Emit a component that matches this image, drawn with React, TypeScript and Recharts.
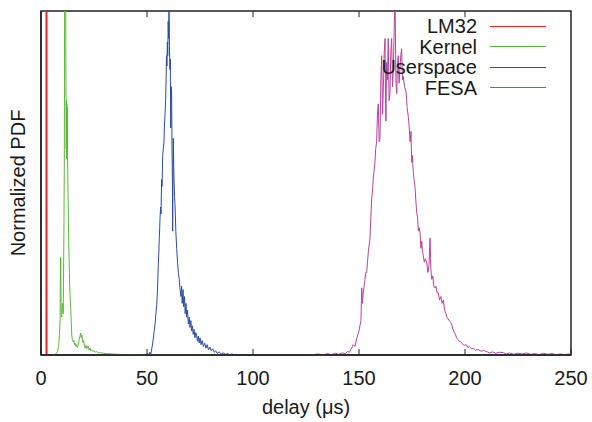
import React from "react";
import { LineChart, Line, XAxis, YAxis, Legend, ReferenceArea, ReferenceLine } from "recharts";

const xTicks = [0, 50, 100, 150, 200, 250];

const lm32Delay = [2.6, 2.6];
const lm32Pdf = [0, 3];

const kernelDelay = [6.0, 7.0, 7.8, 8.3, 8.7, 9.0, 9.2, 9.35, 9.5, 9.8, 10.1, 10.3, 10.5, 10.8, 11.0, 11.3, 11.5, 11.7, 11.8, 11.9, 12.0, 12.1, 12.2, 12.3, 12.4, 12.5, 12.8, 13.1, 13.4, 13.7, 14.0, 14.3, 14.5, 14.8, 15.2, 15.5, 15.8, 16.1, 16.5, 16.8, 17.2, 17.6, 18.0, 18.4, 18.7, 19.0, 19.3, 19.7, 20.1, 20.5, 20.8, 21.2, 21.6, 22.0, 22.3, 22.7, 23.1, 23.5, 23.9, 24.4, 25.0, 25.6, 26.3, 27.0, 28.0, 29.4, 31.0, 33.0, 36.0, 40.0, 45.0, 50.0, 60.0, 100.0];
const kernelPdf = [0, 0.003, 0.01, 0.025, 0.06, 0.1, 0.285, 0.28, 0.12, 0.11, 0.15, 0.13, 0.12, 0.35, 0.55, 1.6, 1.8, 0.9, 0.75, 0.6, 0.74, 0.57, 0.73, 0.58, 0.72, 0.58, 0.45, 0.32, 0.24, 0.17, 0.137, 0.09, 0.058, 0.045, 0.038, 0.042, 0.03, 0.034, 0.025, 0.03, 0.022, 0.03, 0.045, 0.055, 0.064, 0.05, 0.058, 0.037, 0.042, 0.025, 0.02, 0.028, 0.018, 0.026, 0.025, 0.015, 0.02, 0.012, 0.015, 0.01, 0.013, 0.008, 0.01, 0.006, 0.007, 0.005, 0.004, 0.003, 0.002, 0.001, 0.001, 0.0005, 0, 0];

const userDelay = [49.5, 50.5, 51.0, 51.4, 51.8, 52.3, 52.7, 53.0, 53.4, 53.8, 54.2, 54.6, 55.0, 55.3, 55.6, 55.8, 56.0, 56.1, 56.4, 56.6, 56.9, 57.1, 57.4, 57.7, 58.0, 58.2, 58.5, 58.8, 59.0, 59.2, 59.4, 59.6, 59.8, 60.0, 60.2, 60.4, 60.6, 60.8, 61.0, 61.2, 61.4, 61.6, 61.8, 62.0, 62.1, 62.3, 62.4, 62.7, 63.0, 63.2, 63.6, 64.0, 64.4, 64.8, 65.2, 65.6, 66.0, 66.3, 66.6, 67.0, 67.3, 67.7, 68.0, 68.4, 68.7, 69.1, 69.5, 69.9, 70.3, 70.7, 71.0, 71.4, 71.8, 72.2, 72.6, 73.0, 73.4, 73.8, 74.2, 74.6, 75.0, 75.5, 76.0, 76.6, 77.2, 77.8, 78.4, 79.0, 79.7, 80.3, 81.0, 81.7, 82.4, 83.1, 84.0, 85.0, 86.0, 87.0, 88.0, 89.0, 90.0, 91.0, 92.0, 93.0, 100.0];
const userPdf = [0, 0.004, 0, 0.008, 0.003, 0.02, 0.035, 0.05, 0.07, 0.09, 0.12, 0.145, 0.2, 0.26, 0.3, 0.34, 0.37, 0.39, 0.43, 0.41, 0.51, 0.49, 0.58, 0.6, 0.62, 0.66, 0.7, 0.74, 0.8, 0.87, 0.84, 0.91, 0.87, 0.97, 0.92, 1.02, 0.9, 0.83, 0.86, 0.66, 0.78, 0.77, 0.6, 0.5, 0.36, 0.55, 0.63, 0.52, 0.46, 0.44, 0.36, 0.31, 0.27, 0.24, 0.22, 0.19, 0.17, 0.2, 0.15, 0.19, 0.14, 0.17, 0.12, 0.15, 0.11, 0.13, 0.09, 0.11, 0.08, 0.1, 0.07, 0.085, 0.06, 0.075, 0.05, 0.065, 0.058, 0.04, 0.055, 0.035, 0.05, 0.03, 0.042, 0.025, 0.035, 0.02, 0.03, 0.015, 0.023, 0.012, 0.018, 0.008, 0.012, 0.005, 0.009, 0.003, 0.006, 0.002, 0.004, 0.001, 0.003, 0.001, 0.002, 0, 0];

const fesaDelay = [100, 110, 120, 128, 131, 133, 135, 137, 139, 140.5, 142, 143.5, 144.5, 145.5, 146.5, 147.3, 148.1, 148.9, 149.5, 150.0, 150.5, 150.9, 151.3, 151.6, 152.0, 152.4, 152.8, 153.2, 153.6, 154.0, 154.4, 154.8, 155.2, 155.6, 156.0, 156.4, 156.8, 157.2, 157.5, 157.9, 158.3, 158.7, 159.1, 159.5, 159.9, 160.3, 160.7, 161.1, 161.5, 161.9, 162.3, 162.5, 162.7, 163.0, 163.4, 163.8, 164.2, 164.6, 165.0, 165.4, 165.8, 166.2, 166.6, 167.0, 167.4, 167.8, 168.1, 168.5, 168.9, 169.3, 169.7, 170.1, 170.5, 170.9, 171.5, 172.2, 172.7, 173.3, 173.7, 174.1, 174.5, 174.9, 175.2, 175.6, 176.0, 176.4, 176.8, 177.2, 177.6, 178.0, 178.4, 178.8, 179.2, 179.6, 180.0, 180.3, 180.8, 181.3, 181.9, 182.5, 183.0, 183.5, 183.9, 184.3, 184.8, 185.3, 185.8, 186.3, 186.9, 187.4, 188.0, 188.6, 189.2, 189.8, 190.4, 191.0, 191.4, 192.0, 192.6, 193.2, 193.7, 194.3, 195.0, 195.5, 196.0, 196.6, 197.3, 198.0, 198.6, 199.2, 199.9, 200.6, 201.3, 202.0, 203.0, 203.9, 205.0, 206.2, 207.5, 208.8, 210.2, 211.5, 213, 214.5, 216, 218, 219.5, 221, 223, 225, 227, 229, 231, 233, 235, 237, 239, 241, 243, 245, 247, 249, 250];
const fesaPdf = [0, 0, 0, 0.001, 0.003, 0, 0.004, 0.001, 0.005, 0.002, 0.006, 0.004, 0.01, 0.008, 0.02, 0.03, 0.025, 0.047, 0.06, 0.07, 0.087, 0.1, 0.195, 0.15, 0.18, 0.2, 0.22, 0.24, 0.24, 0.27, 0.3, 0.32, 0.34, 0.4, 0.457, 0.48, 0.52, 0.54, 0.56, 0.6, 0.62, 0.7, 0.73, 0.62, 0.63, 0.8, 0.87, 0.7, 0.78, 0.88, 0.92, 0.75, 0.68, 0.85, 0.8, 0.92, 0.74, 0.76, 0.88, 0.92, 0.78, 0.83, 0.95, 1.05, 0.8, 0.76, 0.84, 0.87, 0.79, 0.83, 0.87, 0.89, 0.8, 0.81, 0.78, 0.765, 0.72, 0.69, 0.66, 0.62, 0.65, 0.56, 0.58, 0.53, 0.51, 0.49, 0.45, 0.415, 0.4, 0.36, 0.37, 0.355, 0.31, 0.33, 0.3, 0.29, 0.27, 0.28, 0.27, 0.24, 0.26, 0.34, 0.25, 0.22, 0.23, 0.2, 0.195, 0.2, 0.18, 0.18, 0.16, 0.17, 0.15, 0.16, 0.13, 0.12, 0.11, 0.105, 0.1, 0.095, 0.09, 0.075, 0.065, 0.06, 0.05, 0.045, 0.04, 0.038, 0.033, 0.03, 0.028, 0.03, 0.022, 0.025, 0.018, 0.02, 0.014, 0.016, 0.011, 0.013, 0.01, 0.006, 0.009, 0.005, 0.008, 0.007, 0.003, 0.006, 0.002, 0.005, 0.003, 0.006, 0.002, 0.004, 0.001, 0.005, 0.002, 0.004, 0.001, 0.003, 0.001, 0.003, 0];

const seriesNames = ["LM32", "Kernel", "Userspace", "FESA"];
const seriesColors = ["#e8232a", "#5cb83c", "#2b4ca2", "#b8439e"];

const toPoints = (xs: number[], ys: number[]) => xs.map((x, i) => ({ x, y: ys[i] }));

const series = [
  toPoints(lm32Delay, lm32Pdf),
  toPoints(kernelDelay, kernelPdf),
  toPoints(userDelay, userPdf),
  toPoints(fesaDelay, fesaPdf),
];

const FONT = "'Liberation Sans', Arial, Helvetica, sans-serif";
const TEXT = "#1a1a1a";
const FRAME = "#222";

const BottomTick = (props: any) => {
  const { x, y, payload } = props;
  return (
    <g>
      <line x1={x} x2={x} y1={y - 16} y2={y - 22} stroke={FRAME} strokeWidth={1} />
      <text x={x} y={y + 14} textAnchor="middle" fontFamily={FONT} fontSize={20} fill={TEXT}>
        {payload.value}
      </text>
    </g>
  );
};

const LegendBox = () => (
  <div style={{ fontFamily: FONT, fontSize: 20, color: TEXT }}>
    {seriesNames.map((n, i) => (
      <div key={n} style={{ display: "flex", alignItems: "center", height: 20.5 }}>
        <div style={{ width: 117, textAlign: "right", lineHeight: "20px" }}>{n}</div>
        <div style={{ width: 13 }} />
        <div style={{ width: 56, height: 0, borderTop: `1.2px solid ${seriesColors[i]}` }} />
      </div>
    ))}
  </div>
);

export default function App() {
  return (
    <div style={{ position: "fixed", left: 0, top: 0, width: 592, height: 422, background: "#fff" }}>
      <LineChart width={592} height={422} margin={{ top: 11, right: 21, bottom: 0, left: 0 }}>
        <XAxis
          dataKey="x"
          type="number"
          domain={[0, 250]}
          ticks={xTicks}
          allowDataOverflow
          height={67}
          tickLine={false}
          tickSize={0}
          tickMargin={16}
          tick={<BottomTick />}
          axisLine={{ stroke: FRAME, strokeWidth: 1.5 }}
          label={{ value: "delay (μs)", position: "insideBottom", offset: 8, style: { fontFamily: FONT, fontSize: 20, fill: TEXT } }}
        />
        <YAxis
          type="number"
          domain={[0, 1]}
          allowDataOverflow
          width={41}
          tick={false}
          tickLine={false}
          axisLine={{ stroke: FRAME, strokeWidth: 1.5 }}
          label={{ value: "Normalized PDF", angle: -90, position: "insideLeft", offset: 18, style: { textAnchor: "middle", fontFamily: FONT, fontSize: 20, fill: TEXT } }}
        />
        {series.map((d, i) => (
          <Line
            key={seriesNames[i]}
            data={d}
            dataKey="y"
            name={seriesNames[i]}
            type="linear"
            stroke={seriesColors[i]}
            strokeWidth={i === 0 ? 2 : 1}
            dot={false}
            isAnimationActive={false}
          />
        ))}
        <ReferenceArea x1={0} x2={250} y1={0} y2={1} fill="none" fillOpacity={0} stroke={FRAME} strokeWidth={1.5} ifOverflow="visible" />
        {xTicks.slice(1, -1).map((t) => (
          <ReferenceLine
            key={"tt" + t}
            segment={[{ x: t, y: 1 }, { x: t, y: 0.982 }]}
            stroke={FRAME}
            strokeWidth={1}
            ifOverflow="visible"
          />
        ))}
        <Legend
          layout="vertical"
          align="center"
          verticalAlign="middle"
          content={<LegendBox />}
          wrapperStyle={{ left: 360, top: 16, width: 200, height: 90 }}
        />
      </LineChart>
    </div>
  );
}
